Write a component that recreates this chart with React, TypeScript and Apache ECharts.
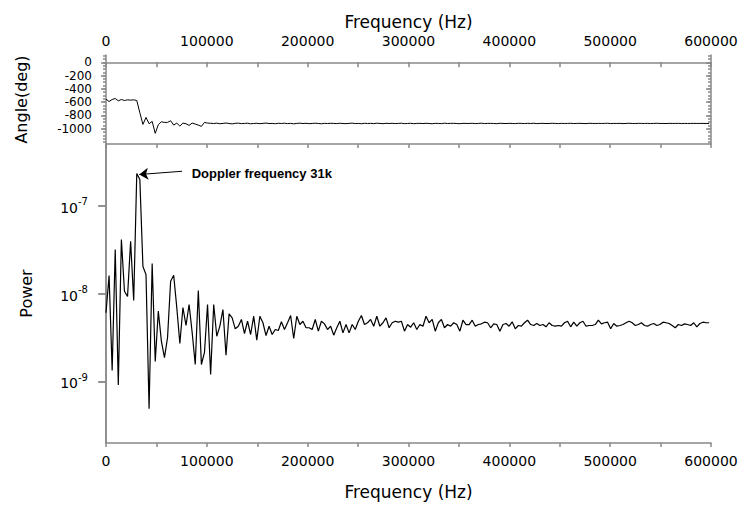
import React, { useEffect, useRef } from "react";
import * as echarts from "echarts";

// Frequency grid spacing of the spectrum (Hz)
const FREQ_STEP_HZ = 3051.76;

// Power spectrum, in units of 1e-9
const powerE9 = [
  6.04, 16.0, 1.33, 31.6, 0.91, 41.1, 10.6, 9.24, 39.3, 8.31,
  231, 197, 20.3, 16.4, 0.49, 21.9, 1.69, 6.3, 2.87, 1.87,
  3.16, 13.8, 16.1, 6.93, 2.7, 6.93, 4.33, 7.5, 3.6, 1.56,
  10.8, 1.56, 2.14, 7.5, 1.2, 7.5, 3.27, 4.26, 6.58, 1.99,
  5.87, 5.29, 3.97, 4.25, 5.07, 3.51, 4.84,
  3.42, 5.52, 2.95, 5.52, 4.65, 3.33, 4.25, 3.42, 3.9, 3.8,
  4.77, 3.9, 4.65, 5.62, 3.08, 5.52, 4.44, 4.84, 4.08, 4.08,
  3.9, 5.07, 3.73, 4.84, 4.52, 3.9, 4.25, 3.36, 4.08, 4.84,
  3.57, 4.44, 3.57, 4.44, 3.9, 4.84, 5.62, 4.44, 4.65, 5.07,
  4.25, 5.52, 4.25, 4.65, 5.29, 4.08, 4.65, 4.84, 4.72, 4.84,
  3.73, 4.44, 4.14, 4.65, 3.9, 4.44, 4.25, 5.52, 4.65, 5.07,
  3.73, 4.65, 5.07, 4.08, 4.44, 4.25, 4.65, 4.44, 3.73, 4.97,
  4.44, 4.44, 4.97, 4.25, 4.44, 4.52, 4.72, 4.65, 4.08, 4.52,
  4.44, 3.73, 4.44, 4.56, 4.25, 4.77, 3.97, 4.33, 4.25, 4.65,
  4.97, 4.44, 4.33, 4.56, 4.33, 4.44, 4.18, 4.65, 4.33, 4.25,
  4.33, 4.25, 4.65, 4.84, 4.18, 4.72, 4.25, 4.65, 4.84, 4.25,
  4.33, 4.33, 4.44, 4.97, 4.52, 4.65, 4.72, 3.97, 4.56, 4.25,
  4.33, 4.44, 4.65, 4.84, 4.65, 4.33, 4.44, 4.65, 4.33, 4.25,
  4.44, 4.56, 4.33, 4.44, 4.72, 4.65, 4.56, 4.33, 4.08, 4.44,
  4.33, 4.52, 4.44, 4.33, 4.65, 4.18, 4.56, 4.72, 4.65, 4.65,
];

// Phase angle (deg)
const angleDeg = [
  -555, -590, -560, -545, -580, -560, -575, -565, -570, -565, -575,
  -760, -935, -830, -925, -890, -1070, -940, -895, -905, -905,
  -880, -945, -915, -960, -915, -925, -950, -915, -930, -945, -965, -905, -915,
  -918, -922, -916, -925, -920, -914, -921, -927, -919, -916,
  -923, -920, -917, -926, -921, -918, -924, -919, -915, -922,
  -920, -925, -918, -921, -917, -923, -919, -926, -920, -916,
  -922, -918, -924, -920, -917, -921, -925, -919, -922, -918,
  -920, -923, -917, -921, -924, -919, -916, -922, -920, -925,
  -918, -921, -919, -923, -917, -920, -924, -918, -921, -919,
  -922, -920, -917, -923, -921, -918, -924, -920, -919, -922,
  -918, -921, -925, -919, -920, -923, -917, -921, -920, -918,
  -922, -924, -919, -920, -921, -918, -923, -920, -917, -922,
  -920, -919, -921, -924, -918, -920, -922, -919, -921, -923,
  -918, -920, -922, -919, -921, -917, -923, -920, -919, -922,
  -921, -918, -920, -923, -919, -921, -920, -918, -922, -920,
  -919, -921, -923, -918, -920, -922, -919, -921, -920, -918,
  -922, -920, -921, -919, -923, -920, -918, -921, -922, -919,
  -920, -921, -919, -922, -920, -918, -921, -920, -922, -919,
  -921, -920, -919, -922, -920, -921, -920, -919, -921, -920,
  -920, -921, -920,
];

const angleMajorTicks = [0, -200, -400, -600, -800, -1000];
const angleMinorTicks = [
  100, 50, 0, -50, -100, -150, -200, -250, -300, -350, -400, -450, -500,
  -550, -600, -650, -700, -750, -800, -850, -900, -950, -1000, -1050,
  -1100, -1150, -1200,
];
const powerDecadeTicks = [1e-9, 1e-8, 1e-7];

const annotationText = "Doppler frequency 31k";
const arrowTail = [75400, 2.45e-7];
const arrowTip = [33000, 2.25e-7];
const annotationAnchor = [85000, 2.31e-7];

const GRAY = "#888888";
const FONT = "DejaVu Sans";

export default function App() {
  const ref = useRef<HTMLDivElement>(null);

  useEffect(() => {
    if (!ref.current) return;
    const chart = echarts.init(ref.current, undefined, { renderer: "svg" });

    const lineStyle = { color: GRAY, width: 1.5 };
    const tickLabel = { color: "#000", fontSize: 14, fontFamily: FONT };
    const nameStyle = { color: "#000", fontSize: 17, fontFamily: FONT };
    const plain = (v: number) => String(v);

    const angleData = angleDeg.map((v, i) => [i * FREQ_STEP_HZ, v]);
    const powerData = powerE9.map((v, i) => [i * FREQ_STEP_HZ, v * 1e-9]);

    const xBase = {
      type: "value",
      min: 0,
      max: 600000,
      interval: 100000,
      splitLine: { show: false },
      axisLine: { show: true, lineStyle },
    };

    const option: any = {
      animation: false,
      backgroundColor: "#ffffff",
      grid: [
        { left: 106, right: 30, top: 55, height: 89 },
        { left: 106, right: 30, top: 144, height: 299 },
      ],
      xAxis: [
        {
          ...xBase,
          gridIndex: 0,
          position: "top",
          name: "Frequency (Hz)",
          nameLocation: "middle",
          nameGap: 25,
          nameTextStyle: nameStyle,
          axisTick: { show: true, inside: true, length: 5, lineStyle },
          minorTick: { show: true, splitNumber: 2, length: 5, lineStyle },
          axisLabel: { ...tickLabel, margin: 7, formatter: plain, showMinLabel: true, showMaxLabel: true },
        },
        {
          ...xBase,
          gridIndex: 1,
          position: "top",
          axisTick: { show: true, inside: true, length: 4, lineStyle },
          minorTick: { show: true, splitNumber: 2, length: 4, lineStyle },
          axisLabel: { show: false },
        },
        {
          ...xBase,
          gridIndex: 1,
          position: "bottom",
          name: "Frequency (Hz)",
          nameLocation: "middle",
          nameGap: 40,
          nameTextStyle: nameStyle,
          axisTick: { show: true, inside: false, length: 4, lineStyle },
          minorTick: { show: true, splitNumber: 2, length: 4, lineStyle },
          axisLabel: { ...tickLabel, margin: 11, formatter: plain, showMinLabel: true, showMaxLabel: true },
        },
      ],
      yAxis: [
        {
          gridIndex: 0,
          type: "value",
          position: "left",
          min: -1230,
          max: 110,
          splitLine: { show: false },
          axisLine: { show: true, lineStyle },
          axisTick: { show: true, inside: false, length: 5, customValues: angleMajorTicks, lineStyle },
          axisLabel: {
            ...tickLabel,
            fontSize: 12,
            lineHeight: 12,
            margin: 14,
            customValues: angleMajorTicks,
            showMinLabel: true,
            showMaxLabel: true,
            hideOverlap: false,
            formatter: plain,
          },
          name: "Angle(deg)",
          nameLocation: "middle",
          nameGap: 77,
          nameRotate: 90,
          nameTextStyle: { ...nameStyle, fontSize: 16 },
        },
        {
          gridIndex: 0,
          type: "value",
          position: "left",
          min: -1230,
          max: 110,
          splitLine: { show: false },
          axisLine: { show: false },
          axisTick: { show: true, inside: false, length: 3, customValues: angleMinorTicks, lineStyle },
          axisLabel: { show: false },
        },
        {
          gridIndex: 0,
          type: "value",
          position: "right",
          min: -1230,
          max: 110,
          splitLine: { show: false },
          axisLine: { show: true, lineStyle },
          axisTick: { show: true, inside: true, length: 5, customValues: angleMajorTicks, lineStyle },
          axisLabel: { show: false },
        },
        {
          gridIndex: 0,
          type: "value",
          position: "right",
          min: -1230,
          max: 110,
          splitLine: { show: false },
          axisLine: { show: false },
          axisTick: { show: true, inside: true, length: 3, customValues: angleMinorTicks, lineStyle },
          axisLabel: { show: false },
        },
        {
          gridIndex: 1,
          type: "log",
          logBase: 10,
          position: "left",
          min: 2e-10,
          max: 5e-7,
          splitLine: { show: false },
          axisLine: { show: true, lineStyle },
          axisTick: { show: true, inside: false, length: 7, customValues: powerDecadeTicks, lineStyle },
          axisLabel: {
            margin: 18,
            customValues: powerDecadeTicks,
            formatter: (v: number) => `{b|10}{s|${Math.round(Math.log10(v))}}`,
            rich: {
              b: { fontSize: 14, fontFamily: FONT, color: "#000", lineHeight: 18, verticalAlign: "bottom" },
              s: { fontSize: 10, fontFamily: FONT, color: "#000", lineHeight: 12, verticalAlign: "top" },
            },
          },
          name: "Power",
          nameLocation: "middle",
          nameGap: 72,
          nameRotate: 90,
          nameTextStyle: { ...nameStyle, fontSize: 16 },
        },
        {
          gridIndex: 1,
          type: "log",
          logBase: 10,
          position: "right",
          min: 2e-10,
          max: 5e-7,
          splitLine: { show: false },
          axisLine: { show: true, lineStyle },
          axisTick: { show: true, inside: true, length: 8, customValues: powerDecadeTicks, lineStyle },
          axisLabel: { show: false },
        },
      ],
      series: [
        {
          type: "line",
          xAxisIndex: 0,
          yAxisIndex: 0,
          data: angleData,
          showSymbol: false,
          lineStyle: { color: "#000", width: 1 },
          silent: true,
        },
        {
          type: "line",
          xAxisIndex: 2,
          yAxisIndex: 4,
          data: powerData,
          showSymbol: false,
          lineStyle: { color: "#000", width: 1.2 },
          silent: true,
          markLine: {
            silent: true,
            symbol: ["none", "arrow"],
            symbolSize: 9,
            lineStyle: { color: "#000", width: 1, type: "solid" },
            label: { show: false },
            data: [[{ coord: arrowTail }, { coord: arrowTip }]],
          },
          markPoint: {
            silent: true,
            symbolSize: 0,
            data: [
              {
                coord: annotationAnchor,
                label: {
                  show: true,
                  position: "right",
                  distance: 0,
                  formatter: annotationText,
                  color: "#000",
                  fontWeight: "bold",
                  fontSize: 13,
                  fontFamily: "Liberation Sans",
                },
              },
            ],
          },
        },
      ],
    };

    chart.setOption(option);
    return () => chart.dispose();
  }, []);

  return (
    <div
      ref={ref}
      style={{ position: "fixed", left: 0, top: 0, width: 741, height: 506, background: "#fff" }}
    />
  );
}
